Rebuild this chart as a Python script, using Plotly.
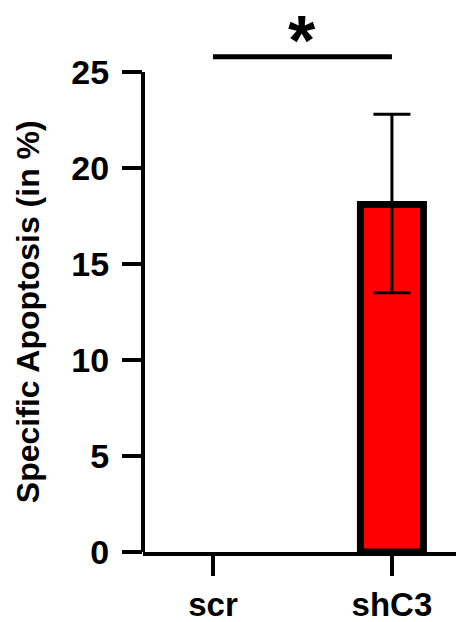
import plotly.graph_objects as go

# ---- data ----
categories = ["scr", "shC3"]
values = [0.0, 18.1]
err_plus = [None, 4.7]
err_minus = [None, 4.6]
y_ticks = [0, 5, 10, 15, 20, 25]
y_title = "Specific Apoptosis (in %)"
sig_label = "*"
sig_level = 25.8
sig_pair = ["scr", "shC3"]

FONT = "Liberation Sans, Arial, Helvetica, sans-serif"

fig = go.Figure()
fig.add_trace(go.Bar(
    x=categories, y=values, width=0.352,
    marker=dict(color="#ff0000", line=dict(color="black", width=[0, 7])),
    showlegend=False,
))

# error bars only for points that have an error value
eb = [(c, v, p, m) for c, v, p, m in zip(categories, values, err_plus, err_minus) if p is not None]
fig.add_trace(go.Scatter(
    x=[e[0] for e in eb], y=[e[1] for e in eb], mode="markers",
    marker=dict(size=1, opacity=0),
    error_y=dict(type="data", array=[e[2] for e in eb], arrayminus=[e[3] for e in eb],
                 symmetric=False, color="black", thickness=3, width=18.5, visible=True),
    showlegend=False, hoverinfo="skip",
))

# significance bar
fig.add_trace(go.Scatter(
    x=sig_pair, y=[sig_level, sig_level], mode="lines",
    line=dict(color="black", width=5), showlegend=False, hoverinfo="skip",
))

fig.add_annotation(x=0.5, y=1, xref="x", yref="paper", text=sig_label, showarrow=False,
                   font=dict(family=FONT, size=70, color="black", weight=700),
                   xanchor="center", yanchor="top")

# y-axis line drawn only from 0 to max tick
fig.add_shape(type="line", xref="paper", yref="y", x0=0, x1=0, y0=y_ticks[0], y1=y_ticks[-1],
              line=dict(color="black", width=4))

fig.add_annotation(x=-0.367, y=12.5, xref="paper", yref="y", text=y_title, showarrow=False,
                   textangle=-90, xanchor="center", yanchor="middle",
                   font=dict(family=FONT, size=32, color="black", weight=700))

fig.update_layout(
    width=456, height=622,
    margin=dict(l=143, r=0, t=0, b=70, autoexpand=False),
    plot_bgcolor="white", paper_bgcolor="white",
    font=dict(family=FONT, color="black"),
)
fig.update_xaxes(
    type="category", range=[-0.391, 1.358],
    showline=True, linecolor="black", linewidth=4,
    ticks="outside", ticklen=20, tickwidth=4, tickcolor="black",
    tickfont=dict(family=FONT, size=33, color="black", weight=700),
    ticklabelstandoff=0,
    showgrid=False, zeroline=False, fixedrange=True,
)
fig.update_yaxes(
    range=[0, 28.75], tickvals=y_ticks, ticktext=[str(v) for v in y_ticks],
    showline=False, ticks="outside", ticklen=20, tickwidth=4, tickcolor="black",
    tickfont=dict(family=FONT, size=34, color="black", weight=700),
    ticklabelstandoff=6,
    showgrid=False, zeroline=False, fixedrange=True,
)

fig.write_html("out.html", config={"displayModeBar": False},
               post_script="document.body.style.margin='0px';")
